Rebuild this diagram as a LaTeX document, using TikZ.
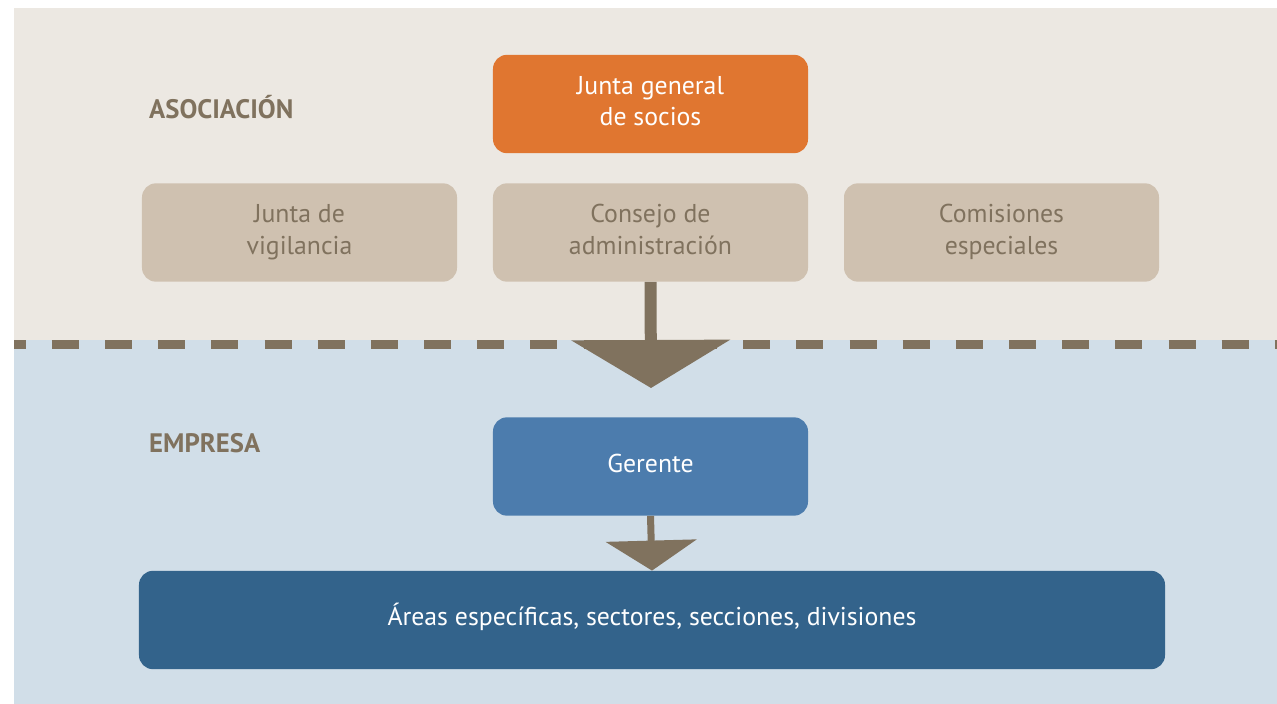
\documentclass[tikz,border=0pt]{standalone}
\usepackage{fontspec}
\setmainfont{PT Sans}
\usetikzlibrary{arrows.meta,positioning}
\definecolor{fondoA}{RGB}{236,232,226}
\definecolor{fondoE}{RGB}{209,222,232}
\definecolor{marron}{RGB}{128,114,94}
\definecolor{arena}{RGB}{207,193,176}
\definecolor{naranja}{RGB}{224,118,48}
\definecolor{azul}{RGB}{76,124,173}
\definecolor{azulosc}{RGB}{51,99,139}
\tikzset{
  caja/.style = {align=center, inner sep=0pt, rounded corners=0.42cm,
    minimum width=9.45cm, minimum height=2.95cm,
    font=\fontsize{22}{27}\selectfont,
    execute at begin node={\rule{0pt}{21.6pt}},
    execute at end node={\rule[-#1]{0pt}{#1}}},
  caja/.default = 12.2pt,
  caja_n/.style = {caja=5.2pt, fill=naranja, text=white},% junta general
  caja_a/.style = {caja=5.2pt, fill=arena, text=marron},% organos de la asociacion
  caja_g/.style = {caja, fill=azul, text=white},% gerente
  caja_o/.style = {caja, fill=azulosc, text=white, minimum width=30.78cm},% areas
  titulo/.style = {anchor=west, inner sep=0pt, text=marron,
    font=\fontsize{22.8}{27}\selectfont\bfseries},
  flecha/.style = {draw=marron, line width=#1}
}

\begin{document}
\begin{tikzpicture}[x=0.03cm,y=-0.03cm]
        \useasboundingbox (0,0) rectangle (1277,704);
        \fill[fondoA] (14,8) rectangle (1277,340);
        \fill[fondoE] (14,340) rectangle (1277,704);
        \draw[marron, line width=0.27cm, dash pattern=on 0.81cm off 0.785cm,
          dash phase=0.456cm] (14,344.5) -- (1277,344.5);

        \node [titulo] (T1) at (149,107) {ASOCIACIÓN};
        \node [titulo] (T2) at (149,443) {EMPRESA};

        \node [caja_n] (J) at (650.5,104) {Junta general\\de socios};
        \node [caja_a] (V) at (299.5,232.5) {Junta de\\vigilancia};
        \node [caja_a] (C) at (650.5,232.5) {Consejo de\\administración};
        \node [caja_a] (S) at (1001.5,232.5) {Comisiones\\especiales};
        \node [caja_g] (G) at (650.5,466.5) {Gerente};
        \node [caja_o] (A) at (652,620) {Áreas específicas, sectores, secciones, divisiones};

        \coordinate (P) at (651,388);
        \draw [flecha=0.36cm, -{Triangle[width=4.71cm,length=1.44cm]}] (C.south) -- (P);
        \draw [flecha=0.21cm, -{Triangle[width=2.7cm,length=0.9cm]}] (G.south) -- (A.north);

        \end{tikzpicture}
\end{document}
